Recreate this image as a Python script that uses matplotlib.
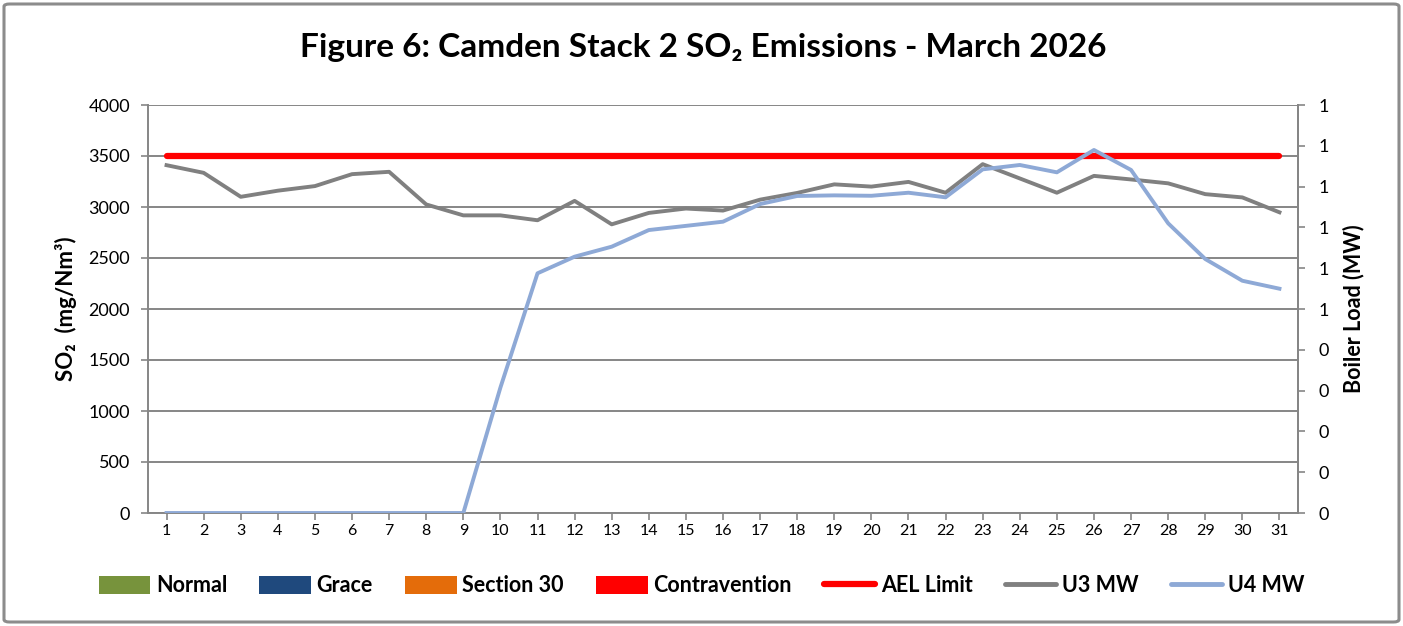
import matplotlib
matplotlib.use("Agg")
import matplotlib.pyplot as plt
from matplotlib.patches import Patch, FancyBboxPatch
from matplotlib.lines import Line2D
from matplotlib.ticker import FixedLocator, FixedFormatter

plt.rcParams['font.family'] = ['Lato', 'DejaVu Sans']

days = list(range(1, 32))
ael_limit = [3500] * 31
u3_mw = [3410, 3335, 3100, 3160, 3205, 3322, 3345, 3025, 2918, 2918,
         2870, 3060, 2830, 2942, 2985, 2965, 3072, 3138, 3222, 3200,
         3246, 3140, 3420, 3280, 3140, 3305, 3270, 3232, 3126, 3094, 2948]
u4_mw = [0, 0, 0, 0, 0, 0, 0, 0, 0, 1230,
         2350, 2513, 2611, 2774, 2815, 2856, 3029, 3108, 3114, 3110,
         3140, 3095, 3369, 3412, 3340, 3559, 3363, 2840, 2490, 2277, 2199]
left_ticks = [0, 500, 1000, 1500, 2000, 2500, 3000, 3500, 4000]
right_ticks = [0.0, 0.1, 0.2, 0.3, 0.4, 0.5, 0.6, 0.7, 0.8, 0.9, 1.0]
right_labels = ['0', '0', '0', '0', '0', '1', '1', '1', '1', '1', '1']
legend_labels = ['Normal', 'Grace', 'Section 30', 'Contravention', 'AEL Limit', 'U3 MW', 'U4 MW']
legend_colors = ['#77933C', '#1F497D', '#E46C0A', '#FF0000']

W, H = 1403, 626
fig = plt.figure(figsize=(W / 100, H / 100), dpi=100)
fig.patch.set_facecolor('white')

# outer border
border = FancyBboxPatch((4 / W, 4 / H), 1 - 8 / W, 1 - 8 / H,
                        boxstyle="round,pad=0,rounding_size=0.004",
                        transform=fig.transFigure, fill=False,
                        edgecolor='#8C8C8C', linewidth=2.2)
fig.patches.append(border)

ax = fig.add_axes([148 / W, 1 - 513 / H, (1298 - 148) / W, (513 - 105) / H])
gc = '#868686'
ax.plot(days, ael_limit, color='#FF0000', lw=4.5, solid_capstyle='round', zorder=3)
ax.plot(days, u3_mw, color='#808080', lw=2.8, zorder=4)
ax.plot(days, u4_mw, color='#8EA9D6', lw=2.8, zorder=5)

ax.set_xlim(0.5, 31.5)
ax.set_ylim(0, 4000)
ax.set_yticks(left_ticks)
ax.set_xticks(days)
ax.grid(axis='y', color=gc, lw=1.4, zorder=1)
ax.set_axisbelow(True)
ax.spines['top'].set_visible(False)
for s in ['left', 'bottom', 'right']:
    ax.spines[s].set_color(gc)
    ax.spines[s].set_linewidth(1.4)
ax.tick_params(axis='y', direction='out', length=5, color=gc, width=1.2,
               labelsize=13, pad=8, labelcolor='#000000')
ax.tick_params(axis='x', direction='out', length=5, color=gc, width=1.2,
               labelsize=11.5, pad=3, labelcolor='#000000')
ax.set_ylabel('SO₂  (mg/Nm³)', fontsize=16, fontweight='bold', labelpad=8)

ax2 = ax.twinx()
ax2.set_ylim(0, 1)
ax2.yaxis.set_major_locator(FixedLocator(right_ticks))
ax2.yaxis.set_major_formatter(FixedFormatter(right_labels))
for s in ['top', 'left', 'bottom']:
    ax2.spines[s].set_visible(False)
ax2.spines['right'].set_color(gc)
ax2.spines['right'].set_linewidth(1.4)
ax2.tick_params(axis='y', direction='out', length=5, color=gc, width=1.2,
                labelsize=13, pad=10)
ax2.set_ylabel('Boiler Load (MW)', fontsize=15.5, fontweight='bold', labelpad=10)

fig.text(0.501, 1 - 47 / H, 'Figure 6: Camden Stack 2 SO₂ Emissions - March 2026',
         ha='center', va='center', fontsize=24, fontweight='bold')

handles = [Patch(facecolor=c, edgecolor='none') for c in legend_colors]
handles += [Line2D([0], [0], color='#FF0000', lw=4.5, solid_capstyle='round'),
            Line2D([0], [0], color='#808080', lw=3.5, solid_capstyle='round'),
            Line2D([0], [0], color='#8EA9D6', lw=3.5, solid_capstyle='round')]
fig.legend(handles, legend_labels, loc='center', bbox_to_anchor=(0.5, 1 - 586 / H),
           ncol=7, frameon=False, handlelength=2.4, handleheight=0.9,
           handletextpad=0.25, columnspacing=1.5,
           prop={'weight': 'bold', 'size': 15.5, 'family': ['Lato', 'DejaVu Sans']})

fig.savefig('out.png', dpi=100)
